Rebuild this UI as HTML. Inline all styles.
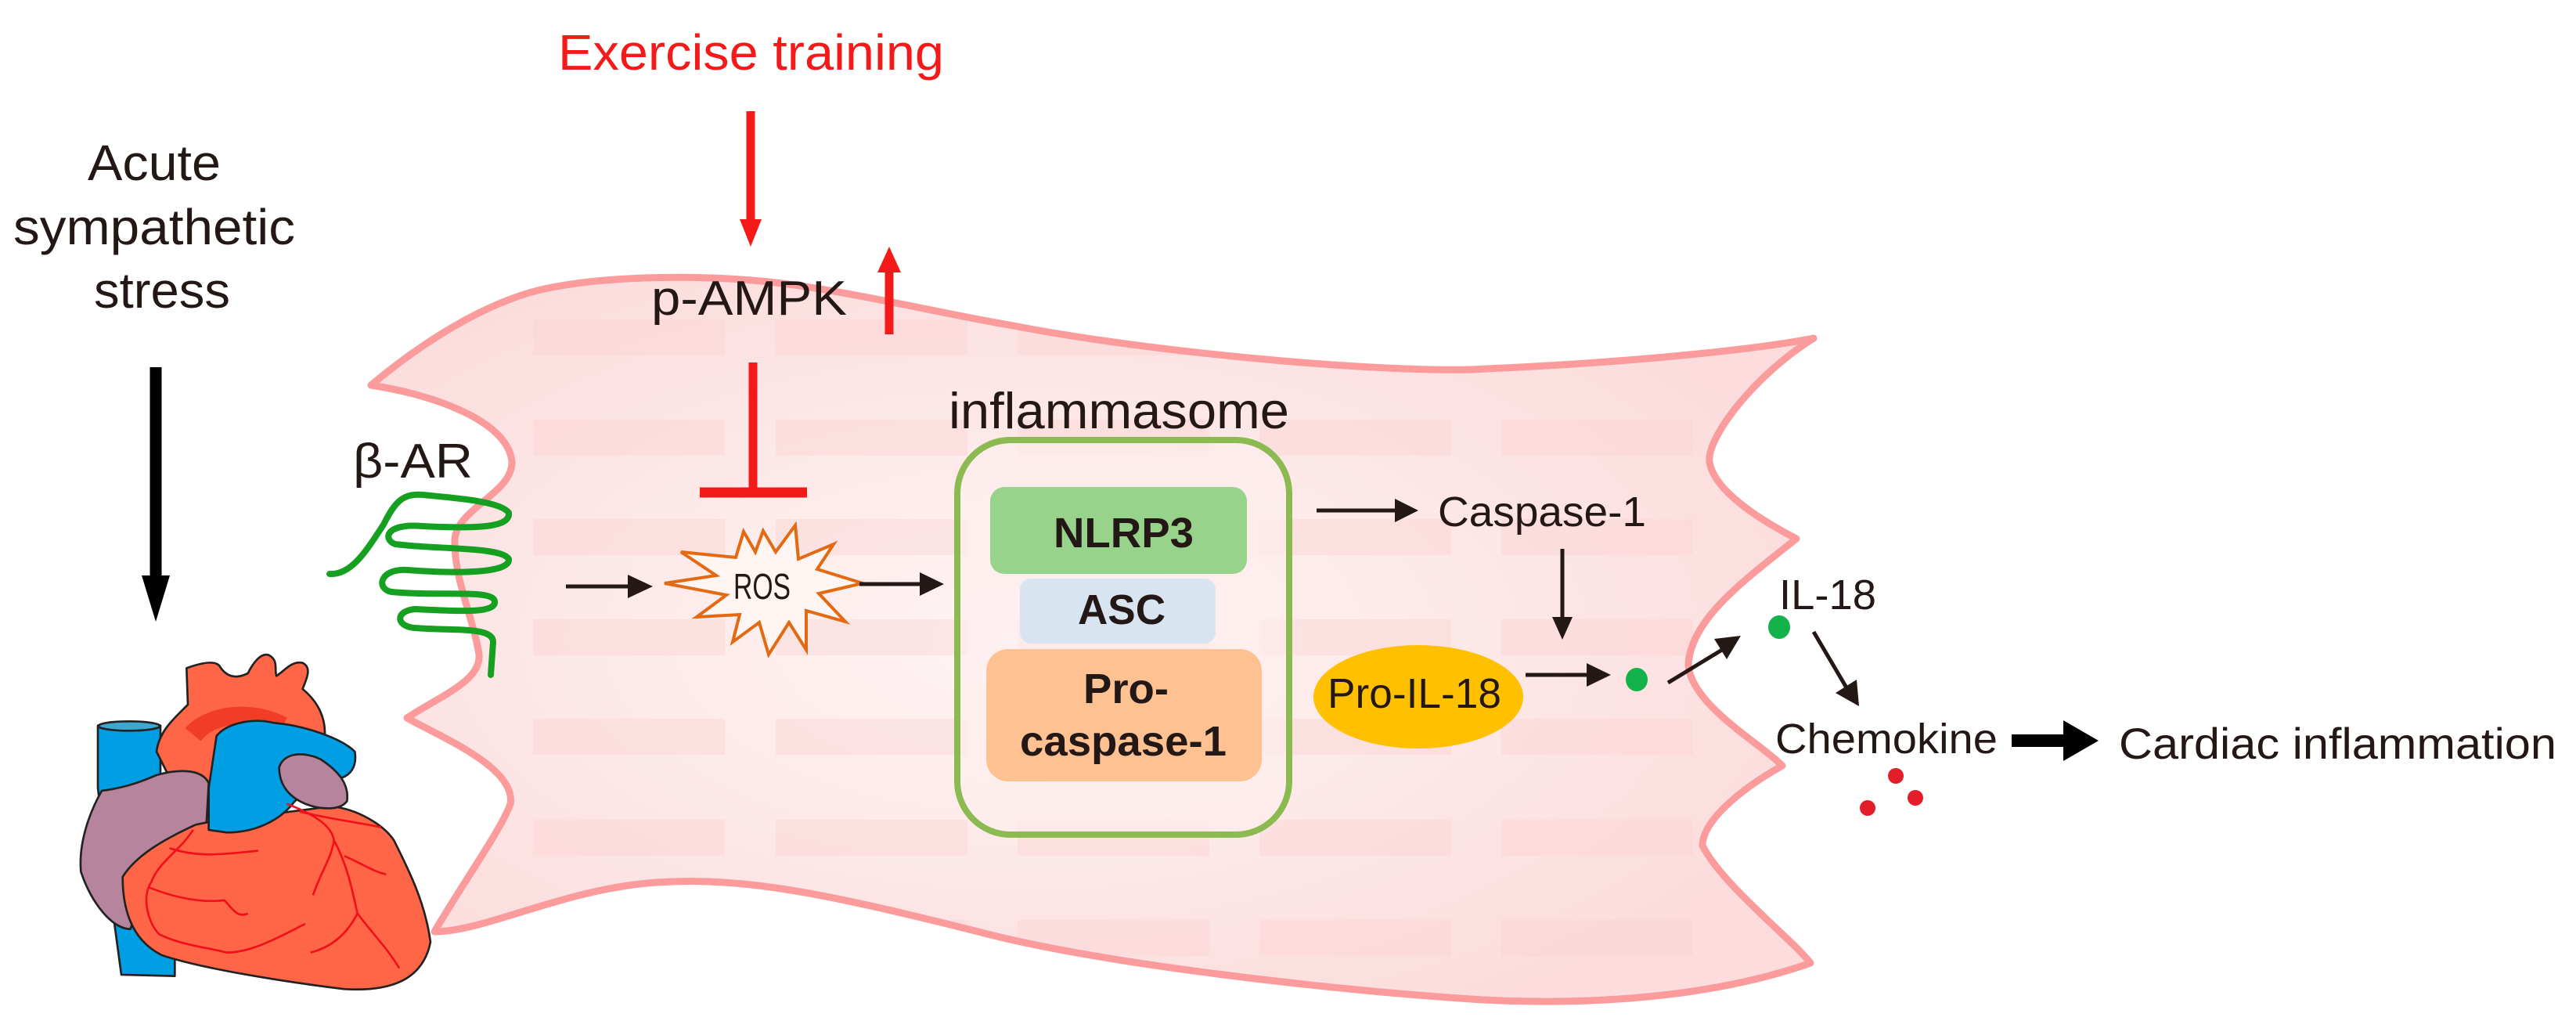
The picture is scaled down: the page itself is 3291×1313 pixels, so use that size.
<!DOCTYPE html>
<html><head><meta charset="utf-8"><style>
html,body{margin:0;padding:0;background:#fff;}
svg{display:block;}
text{font-family:"Liberation Sans",sans-serif;fill:#231815;}
</style></head><body>
<svg width="3291" height="1313" viewBox="0 0 3291 1313" xmlns="http://www.w3.org/2000/svg">
<defs>
<radialGradient id="glow" cx="0.45" cy="0.5" r="0.6">
<stop offset="0" stop-color="#fff4f4"/><stop offset="0.6" stop-color="#fde6e6"/><stop offset="1" stop-color="#fcdcdc"/>
</radialGradient>
<clipPath id="cellclip"><path id="cellp" d="M474,492 C560,420 640,380 700,368 C780,352 900,350 1000,362 C1100,375 1200,400 1300,417 C1500,455 1800,478 1900,471 C2100,462 2250,445 2317,432 C2240,480 2180,560 2184,590 C2190,630 2260,670 2295,688 C2230,740 2160,790 2157,849 C2160,900 2250,950 2277,978 C2220,1010 2175,1050 2175,1080 C2200,1130 2290,1200 2313,1230 C2200,1270 2050,1285 1894,1277 C1700,1265 1400,1230 1250,1190 C1050,1140 950,1120 839,1127 C720,1135 620,1190 555,1190 C590,1130 640,1060 652,1027 C660,980 560,940 520,917 C560,890 615,870 612,836 C605,790 580,740 581,690 C582,650 655,630 654,590 C650,540 560,505 474,492 Z"/></clipPath>
</defs>
<!-- cell -->
<path d="M474,492 C560,420 640,380 700,368 C780,352 900,350 1000,362 C1100,375 1200,400 1300,417 C1500,455 1800,478 1900,471 C2100,462 2250,445 2317,432 C2240,480 2180,560 2184,590 C2190,630 2260,670 2295,688 C2230,740 2160,790 2157,849 C2160,900 2250,950 2277,978 C2220,1010 2175,1050 2175,1080 C2200,1130 2290,1200 2313,1230 C2200,1270 2050,1285 1894,1277 C1700,1265 1400,1230 1250,1190 C1050,1140 950,1120 839,1127 C720,1135 620,1190 555,1190 C590,1130 640,1060 652,1027 C660,980 560,940 520,917 C560,890 615,870 612,836 C605,790 580,740 581,690 C582,650 655,630 654,590 C650,540 560,505 474,492 Z" fill="url(#glow)"/>
<g clip-path="url(#cellclip)" fill="#fbd2d2" opacity="0.4">
<g id="row">
<rect x="681" y="0" width="245" height="46"/><rect x="991" y="0" width="245" height="46"/><rect x="1300" y="0" width="245" height="46"/><rect x="1609" y="0" width="245" height="46"/><rect x="1918" y="0" width="245" height="46"/>
</g>
<use href="#row" y="408"/><use href="#row" y="536"/><use href="#row" y="663"/><use href="#row" y="791"/><use href="#row" y="918"/><use href="#row" y="1047"/><use href="#row" y="1175"/>
</g>
<path d="M474,492 C560,420 640,380 700,368 C780,352 900,350 1000,362 C1100,375 1200,400 1300,417 C1500,455 1800,478 1900,471 C2100,462 2250,445 2317,432 C2240,480 2180,560 2184,590 C2190,630 2260,670 2295,688 C2230,740 2160,790 2157,849 C2160,900 2250,950 2277,978 C2220,1010 2175,1050 2175,1080 C2200,1130 2290,1200 2313,1230 C2200,1270 2050,1285 1894,1277 C1700,1265 1400,1230 1250,1190 C1050,1140 950,1120 839,1127 C720,1135 620,1190 555,1190 C590,1130 640,1060 652,1027 C660,980 560,940 520,917 C560,890 615,870 612,836 C605,790 580,740 581,690 C582,650 655,630 654,590 C650,540 560,505 474,492 Z" fill="none" stroke="#fb9b9b" stroke-width="9" stroke-linejoin="round"/>

<!-- top texts -->
<text x="713" y="89" font-size="64" textLength="493" lengthAdjust="spacingAndGlyphs" style="fill:#f51a1a">Exercise training</text>
<text x="112" y="230" font-size="64" textLength="170" lengthAdjust="spacingAndGlyphs">Acute</text>
<text x="17" y="312" font-size="64" textLength="360" lengthAdjust="spacingAndGlyphs">sympathetic</text>
<text x="120" y="393" font-size="64" textLength="174" lengthAdjust="spacingAndGlyphs">stress</text>
<text x="832" y="402" font-size="62" textLength="250" lengthAdjust="spacingAndGlyphs">p-AMPK</text>
<text x="451" y="610" font-size="62" textLength="153" lengthAdjust="spacingAndGlyphs">β-AR</text>

<!-- red arrows -->
<line x1="959" y1="142" x2="959" y2="285" stroke="#f51a1a" stroke-width="11"/>
<polygon points="945,280 973,280 959,315" fill="#f51a1a"/>
<line x1="1136" y1="345" x2="1136" y2="427" stroke="#f51a1a" stroke-width="11"/>
<polygon points="1121,348 1151,348 1136,315" fill="#f51a1a"/>
<line x1="962" y1="463" x2="962" y2="625" stroke="#f51a1a" stroke-width="11"/>
<line x1="894" y1="629" x2="1031" y2="629" stroke="#f51a1a" stroke-width="13"/>

<!-- big black arrow -->
<line x1="199" y1="469" x2="199" y2="740" stroke="#000" stroke-width="15"/>
<polygon points="181,735 217,735 199,794" fill="#000"/>

<!-- receptor -->
<path d="M421,733 C450,735 470,700 490,670 C505,640 515,630 540,632 C580,636 640,640 650,655 C652,672 620,676 540,672 C490,668 490,690 505,695 C560,702 640,698 650,714 C652,730 600,734 520,728 C485,726 480,752 500,756 C560,762 630,752 632,768 C634,785 580,780 530,778 C505,780 505,800 530,802 C580,806 630,800 630,820 L627,862" fill="none" stroke="#15a021" stroke-width="8" stroke-linecap="round" stroke-linejoin="round"/>

<!-- ROS -->
<polygon points="975,678 991,705 1016,671 1020,714 1065,695 1044,727 1102,745 1046,758 1080,794 1030,780 1030,830 1008,795 982,836 970,795 936,820 945,785 890,788 928,760 849,745 915,735 870,705 940,712 950,679 965,705" fill="#fff6f3" stroke="#e36a12" stroke-width="4" stroke-linejoin="miter"/>
<text x="937" y="765" font-size="46" textLength="73" lengthAdjust="spacingAndGlyphs">ROS</text>

<!-- black thin arrows -->
<g stroke="#231815" stroke-width="5" fill="#231815">
<line x1="723" y1="749" x2="805" y2="749"/><polygon points="802,734 834,749 802,764" stroke="none"/>
<line x1="1098" y1="746" x2="1178" y2="746"/><polygon points="1175,731 1206,746 1175,761" stroke="none"/>
<line x1="1682" y1="652" x2="1785" y2="652"/><polygon points="1782,637 1812,652 1782,667" stroke="none"/>
<line x1="1996" y1="701" x2="1996" y2="790"/><polygon points="1983,788 2009,788 1996,817" stroke="none"/>
<line x1="1949" y1="862" x2="2030" y2="862"/><polygon points="2027,847 2058,862 2027,877" stroke="none"/>
<line x1="2131" y1="872" x2="2200" y2="830"/><polygon points="2190,816 2224,812 2206,842" stroke="none"/>
<line x1="2317" y1="807" x2="2360" y2="880"/><polygon points="2345,885 2375,902 2372,868" stroke="none"/>
</g>
<line x1="2570" y1="946" x2="2640" y2="946" stroke="#000" stroke-width="16"/>
<polygon points="2636,920 2681,946 2636,972" fill="#000"/>

<!-- inflammasome -->
<text x="1212" y="547" font-size="65" textLength="435" lengthAdjust="spacingAndGlyphs">inflammasome</text>
<rect x="1223" y="562" width="424" height="504" rx="68" fill="#fdeeee" fill-opacity="0.6" stroke="#8bbb50" stroke-width="8"/>
<rect x="1265" y="622" width="328" height="111" rx="18" fill="#98d38b"/>
<rect x="1303" y="739" width="250" height="83" rx="14" fill="#d8e5f1"/>
<rect x="1260" y="829" width="352" height="169" rx="28" fill="#fec192"/>
<text x="1346" y="699" font-size="54" font-weight="bold" textLength="179" lengthAdjust="spacingAndGlyphs">NLRP3</text>
<text x="1377" y="797" font-size="54" font-weight="bold" textLength="112" lengthAdjust="spacingAndGlyphs">ASC</text>
<text x="1384" y="898" font-size="54" font-weight="bold" textLength="109" lengthAdjust="spacingAndGlyphs">Pro-</text>
<text x="1303" y="965" font-size="54" font-weight="bold" textLength="264" lengthAdjust="spacingAndGlyphs">caspase-1</text>

<text x="1837" y="672" font-size="54" textLength="266" lengthAdjust="spacingAndGlyphs">Caspase-1</text>
<ellipse cx="1812" cy="890" rx="134" ry="66" fill="#ffc000"/>
<text x="1696" y="904" font-size="54" textLength="222" lengthAdjust="spacingAndGlyphs">Pro-IL-18</text>
<ellipse cx="2091" cy="868" rx="14" ry="15" fill="#13b24a"/>
<ellipse cx="2273" cy="801" rx="14" ry="15" fill="#13b24a"/>
<text x="2273" y="778" font-size="54" textLength="124" lengthAdjust="spacingAndGlyphs">IL-18</text>
<text x="2268" y="962" font-size="54" textLength="284" lengthAdjust="spacingAndGlyphs">Chemokine</text>
<text x="2707" y="969" font-size="56" textLength="559" lengthAdjust="spacingAndGlyphs">Cardiac inflammation</text>
<circle cx="2422" cy="991" r="10" fill="#e31e2a"/><circle cx="2447" cy="1019" r="10" fill="#e31e2a"/><circle cx="2386" cy="1032" r="10" fill="#e31e2a"/>

<!-- heart -->
<g transform="translate(90,820) scale(0.3333)" stroke="#222" stroke-width="8" stroke-linejoin="round">
<path d="M105,320 C150,300 300,300 345,320 L345,560 L400,1100 L400,1280 L195,1275 L170,1090 L105,560 Z" fill="#009fe3"/>
<ellipse cx="225" cy="322" rx="118" ry="18" fill="#3aa8cf"/>
<path d="M330,420 C340,340 400,290 450,240 L445,100 C500,80 550,70 570,90 C600,140 640,140 680,120 C700,80 730,40 760,50 C800,70 780,110 790,130 C820,110 850,70 890,80 C930,100 900,150 890,180 C950,230 990,300 970,400 L900,600 L400,560 Z" fill="#ff6647"/>
<path d="M440,330 C520,240 700,220 830,290 L800,350 C700,300 560,300 500,380 Z" fill="#f23d26" stroke="none"/>
<path d="M120,570 C200,560 260,540 330,510 C400,490 500,480 530,540 L520,720 L300,880 L230,1100 C160,1100 80,1000 40,880 C30,760 80,640 120,570 Z" fill="#b6859d"/>
<path d="M200,900 C250,820 350,760 480,700 L530,690 L1000,630 C1100,640 1200,700 1240,760 C1300,880 1360,1000 1380,1150 C1350,1300 1220,1340 1050,1330 C800,1300 500,1250 350,1200 C250,1150 200,1050 200,900 Z" fill="#ff6647"/>
<path d="M560,360 C600,310 700,290 780,310 C900,320 1040,370 1090,420 C1100,480 1070,510 1040,520 L900,580 L860,610 C800,690 700,730 600,730 L530,720 L530,560 Z" fill="#009fe3"/>
<path d="M800,480 C820,420 900,420 960,450 C1020,490 1070,540 1060,610 C1030,650 950,640 900,620 C830,590 800,540 800,480 Z" fill="#b6859d"/>
<g fill="none" stroke="#f0101a" stroke-width="8">
<path d="M830,620 C930,660 1000,700 1010,760 C1000,830 960,880 930,970"/>
<path d="M880,650 C1000,680 1100,690 1190,710"/>
<path d="M1010,760 C1060,850 1080,950 1100,1040 C1060,1120 1000,1170 920,1190"/>
<path d="M1100,1040 C1160,1120 1220,1180 1260,1250"/>
<path d="M1050,820 C1120,850 1160,880 1210,890"/>
<path d="M470,720 C420,800 340,840 310,920 C270,980 300,1080 340,1120 C420,1160 520,1170 600,1190 C700,1190 820,1120 900,1080"/>
<path d="M380,790 C500,830 600,810 720,800"/>
<path d="M300,940 C400,980 500,1000 590,990 C620,1020 640,1060 680,1040"/>
</g>
</g>
</svg>
</body></html>
